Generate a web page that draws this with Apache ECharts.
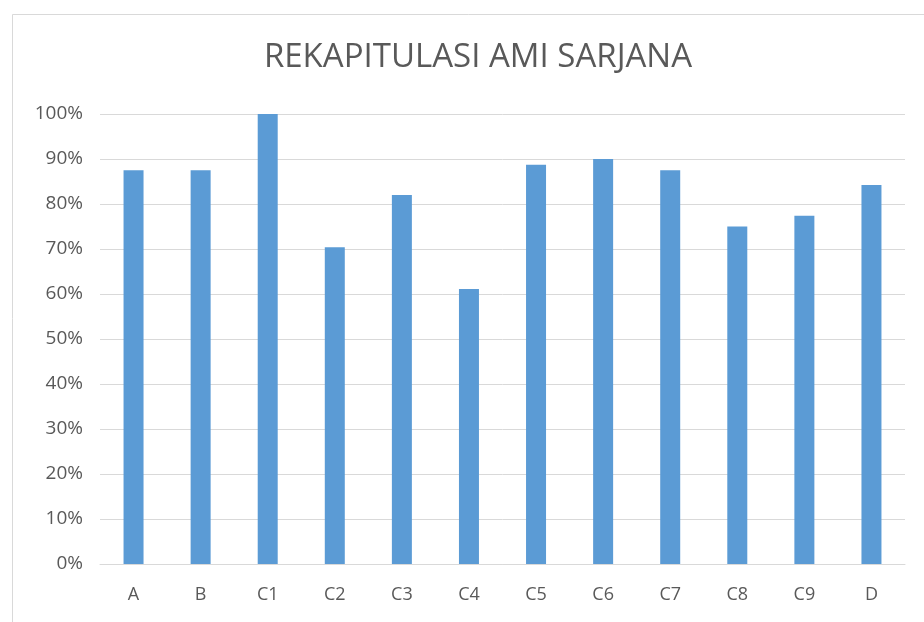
<!DOCTYPE html>
<html>
<head>
<meta charset="utf-8">
<script src="https://cdn.jsdelivr.net/npm/echarts@6/dist/echarts.min.js"></script>
<style>html,body{margin:0;padding:0;background:#fff;}#c{width:924px;height:622px;}</style>
</head>
<body>
<div id="c"></div>
<script>
const titleText = 'REKAPITULASI AMI SARJANA';
const categories = ['A','B','C1','C2','C3','C4','C5','C6','C7','C8','C9','D'];
const values = [87.5, 87.5, 100, 70.4, 82, 61.1, 88.7, 90, 87.5, 75, 77.4, 84.2];

const chart = echarts.init(document.getElementById('c'));
const font = '"Open Sans", "Liberation Sans", sans-serif';
chart.setOption({
  animation: false,
  backgroundColor: '#fff',
  graphic: [{
    type: 'rect', left: 10, top: 12,
    shape: { width: 940, height: 608 },
    style: { fill: 'none', stroke: '#d9d9d9', lineWidth: 1 }, z: -1
  }],
  title: {
    text: titleText, left: 473, top: 36, textAlign: 'center',
    textStyle: { fontFamily: '"Liberation Sans Narrow", "Open Sans", sans-serif', fontWeight: 'normal', fontSize: 33, color: '#595959' }
  },
  grid: { left: 100, right: 19, top: 114, bottom: 58 },
  xAxis: {
    type: 'category', data: categories,
    axisLine: { lineStyle: { color: '#d9d9d9' } },
    axisTick: { show: false },
    axisLabel: { color: '#595959', fontSize: 18, fontFamily: font, margin: 22 }
  },
  yAxis: {
    type: 'value', min: 0, max: 100, interval: 10,
    axisLine: { show: false }, axisTick: { show: false },
    splitLine: { lineStyle: { color: '#d9d9d9' } },
    axisLabel: { color: '#595959', fontSize: 19, fontFamily: font, margin: 17, formatter: v => v + '%' }
  },
  series: [{
    type: 'bar', data: values, barWidth: 20,
    itemStyle: { color: '#5B9BD5' }
  }]
});
</script>
</body>
</html>
